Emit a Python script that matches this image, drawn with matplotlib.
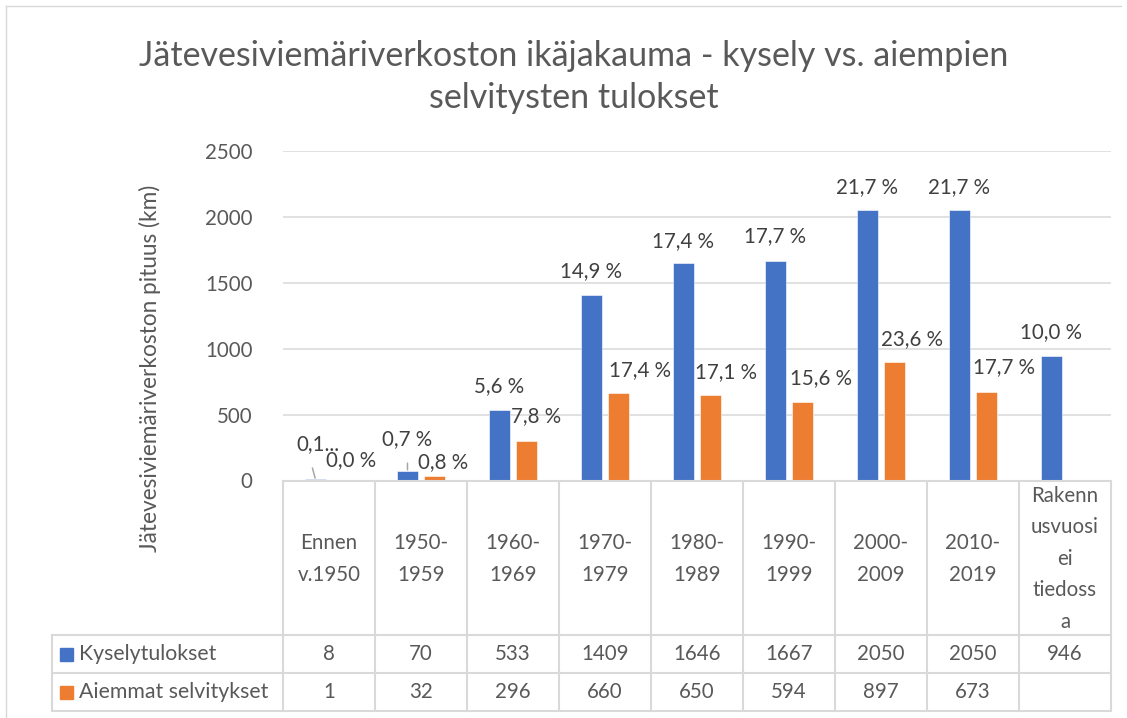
import numpy as np
import matplotlib
matplotlib.use("Agg")
import matplotlib.pyplot as plt
from matplotlib.lines import Line2D
from matplotlib.patches import Rectangle
from matplotlib.transforms import blended_transform_factory

# data
categories = ["Ennen\nv.1950", "1950-\n1959", "1960-\n1969", "1970-\n1979", "1980-\n1989",
              "1990-\n1999", "2000-\n2009", "2010-\n2019", "Rakenn\nusvuosi\nei\ntiedoss\na"]
kysely = [8, 70, 533, 1409, 1646, 1667, 2050, 2050, 946]
aiemmat = [1, 32, 296, 660, 650, 594, 897, 673, None]
kysely_pct = [0.1, 0.7, 5.6, 14.9, 17.4, 17.7, 21.7, 21.7, 10.0]
aiemmat_pct = [0.0, 0.8, 7.8, 17.4, 17.1, 15.6, 23.6, 17.7, None]
series_names = ["Kyselytulokset", "Aiemmat selvitykset"]
yticks = [0, 500, 1000, 1500, 2000, 2500]

BLUE = "#4472C4"
ORANGE = "#ED7D31"
TEXT = "#595959"
LABEL = "#404040"
GRID = "#D9D9D9"

W, H = 1127, 718
plt.rcParams["font.family"] = ["Lato", "DejaVu Sans"]


def fx(px):
    return px / W


def fy(py):
    return 1 - py / H


fig = plt.figure(figsize=(W / 100, H / 100), dpi=100)
ax = fig.add_axes([fx(283), fy(480.5), fx(1111) - fx(283), fy(150.7) - fy(480.5)])

x = np.arange(len(categories))
off, bw = 0.147, 0.223
ax.bar(x - off, kysely, width=bw, color=BLUE, edgecolor="white", linewidth=0.4, zorder=3)
aie = np.array([np.nan if v is None else v for v in aiemmat], dtype=float)
ax.bar(x + off, aie, width=bw, color=ORANGE, edgecolor="white", linewidth=0.4, zorder=3)

ax.set_xlim(-0.5, len(categories) - 0.5)
ax.set_ylim(0, 2500)
ax.set_yticks(yticks)
ax.set_yticklabels([str(t) for t in yticks], fontsize=14.8, color=TEXT)
ax.tick_params(axis="y", length=0, pad=22)
ax.set_xticks([])
for s in ax.spines.values():
    s.set_visible(False)
ax.yaxis.grid(True, color=GRID, linewidth=1.1)
ax.set_axisbelow(True)

fig.text(fx(150), fy(368), "Jätevesiviemäriverkoston pituus (km)", rotation=90,
         ha="center", va="center", fontsize=16.3, color=TEXT)

fig.text(fx(574), fy(77), "Jätevesiviemäriverkoston ikäjakauma - kysely vs. aiempien\nselvitysten tulokset",
         ha="center", va="center", fontsize=24.5, color=TEXT, linespacing=1.38)


# data labels (pixel offsets from bar top, as placed in the original)
def fmt(p):
    return f"{p:.1f} %".replace(".", ",")


blue_dx = [2, 0, 0, 0, 0, 0, 0, 0, 0]
blue_dy = [35, 32, 24, 24, 22, 24, 23, 23, 24]
blue_rel = [(0.3, 0.0), (0.5, 0.0)]
orange_dx = [8.5, 9, 9.5, 21.5, 15.5, 18.5, 17.5, 17, 0]
orange_dy = [20, 14, 25.5, 23, 23, 24, 23, 25, 0]

for i, (v, p) in enumerate(zip(kysely, kysely_pct)):
    txt = "0,1..." if i == 0 else fmt(p)
    arrow = None
    if i < len(blue_rel):
        arrow = dict(arrowstyle="-", color="#A6A6A6", lw=1.1, shrinkA=8, shrinkB=1,
                     relpos=blue_rel[i])
    ax.annotate(txt, xy=(x[i] - off, v), xytext=(blue_dx[i] * 0.72, blue_dy[i] * 0.72),
                textcoords="offset points", ha="center", va="center", fontsize=14.8, color=LABEL,
                arrowprops=arrow, annotation_clip=False, zorder=5)

for i, (v, p) in enumerate(zip(aiemmat, aiemmat_pct)):
    if v is None:
        continue
    ax.annotate(fmt(p), xy=(x[i] + off, v), xytext=(orange_dx[i] * 0.72, orange_dy[i] * 0.72),
                textcoords="offset points", ha="center", va="center", fontsize=14.8, color=LABEL,
                annotation_clip=False, zorder=5)

# data table under the plot
tr = blended_transform_factory(ax.transData, fig.transFigure)
lw = 1.5
row_top, row1, row2, row3 = 480.5, 635, 673, 711
left_px = 52

for i in range(len(categories) + 1):
    xe = i - 0.5
    fig.add_artist(Line2D([xe, xe], [fy(row_top), fy(row3)], transform=tr, color=GRID, lw=lw))
fig.add_artist(Line2D([fx(left_px), fx(left_px)], [fy(row1), fy(row3)], transform=fig.transFigure,
                      color=GRID, lw=lw))
for yy in (row1, row2, row3):
    fig.add_artist(Line2D([fx(left_px), fx(1111)], [fy(yy), fy(yy)], transform=fig.transFigure,
                          color=GRID, lw=lw))
fig.add_artist(Line2D([fx(283), fx(1111)], [fy(row_top), fy(row_top)], transform=fig.transFigure,
                      color=GRID, lw=lw))

for i, c in enumerate(categories):
    fig.text(x[i], fy((row_top + row1) / 2 + 1), c, transform=tr, ha="center", va="center",
             fontsize=14.8, color=TEXT, linespacing=1.72)
    fig.text(x[i], fy((row1 + row2) / 2), str(kysely[i]), transform=tr, ha="center", va="center",
             fontsize=14.8, color=TEXT)
    if aiemmat[i] is not None:
        fig.text(x[i], fy((row2 + row3) / 2), str(aiemmat[i]), transform=tr, ha="center",
                 va="center", fontsize=14.8, color=TEXT)

for name, col, (a, b) in zip(series_names, [BLUE, ORANGE], [(row1, row2), (row2, row3)]):
    yc = (a + b) / 2
    fig.add_artist(Rectangle((fx(60), fy(yc + 6.5)), fx(13), 13 / H, transform=fig.transFigure,
                             color=col))
    fig.text(fx(79), fy(yc), name, ha="left", va="center", fontsize=15.3, color=TEXT)

# chart border
fig.add_artist(Line2D([fx(6), fx(6)], [fy(6), fy(718)], transform=fig.transFigure, color=GRID, lw=1))
fig.add_artist(Line2D([fx(6), fx(1121)], [fy(6), fy(6)], transform=fig.transFigure, color=GRID, lw=1))

fig.savefig("out.png", dpi=100)
